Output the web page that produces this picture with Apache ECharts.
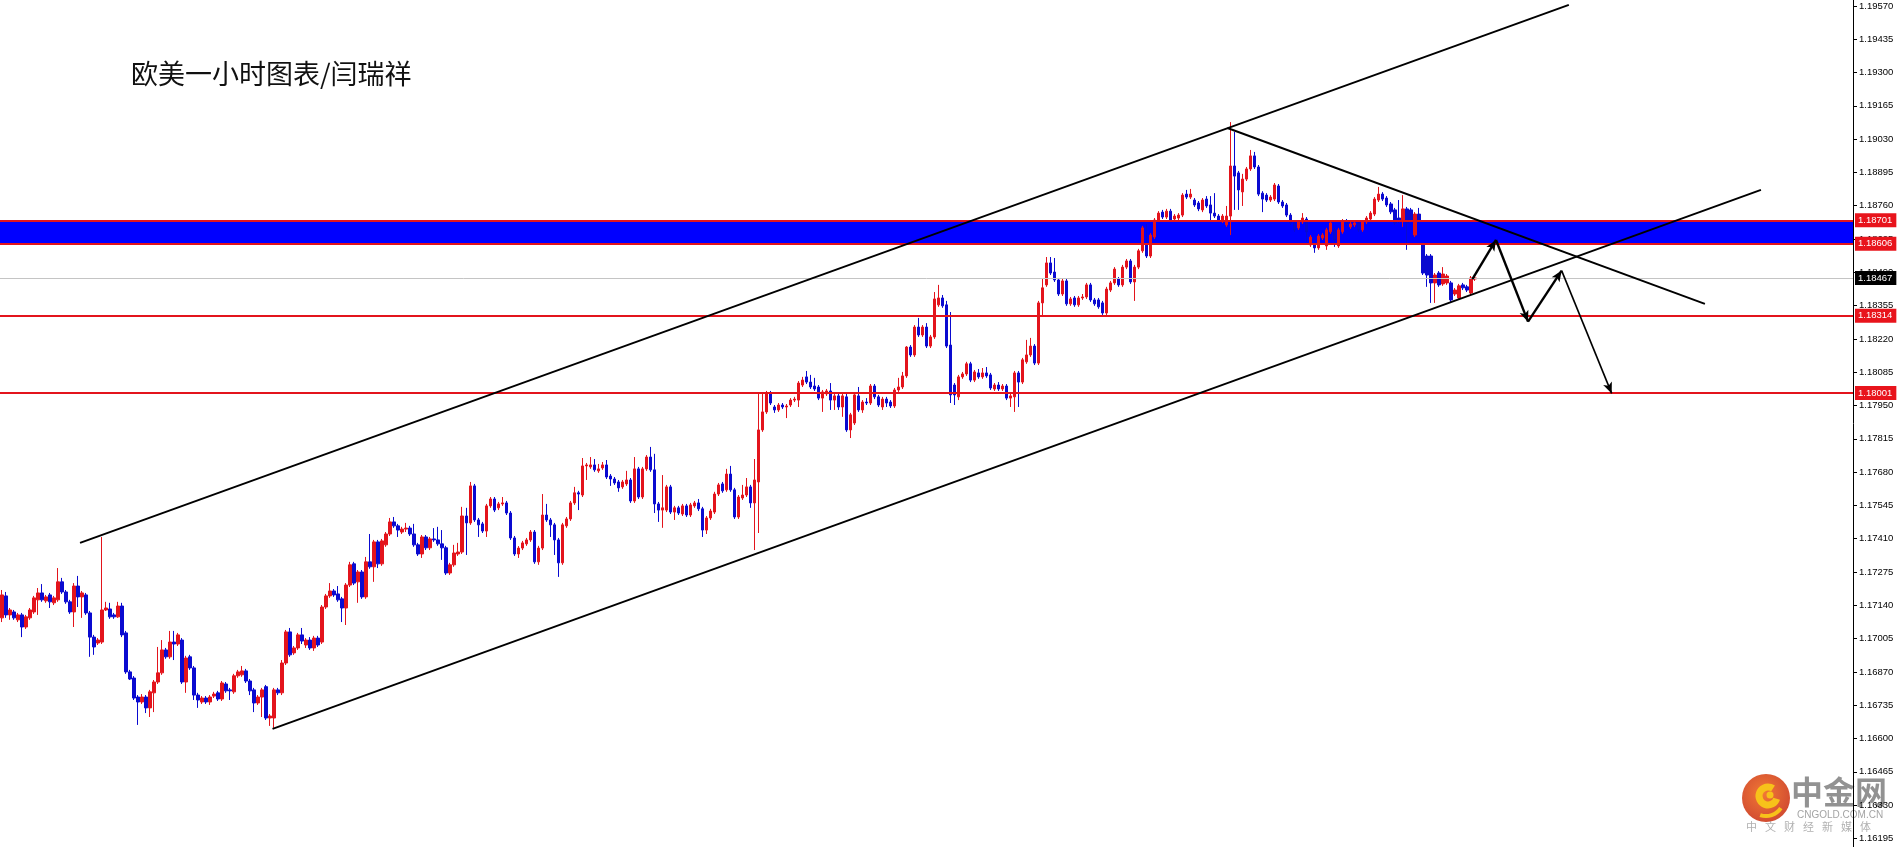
<!DOCTYPE html>
<html><head><meta charset="utf-8">
<script src="https://cdn.jsdelivr.net/npm/echarts@6/dist/echarts.min.js"></script>
<style>html,body{margin:0;padding:0;background:#fff}#c{width:1899px;height:847px}</style>
</head><body><div id="c"></div>
<script>
// EURUSD H1 candles: [open, close, low, high]
const ohlc = [
[1.17089,1.17182,1.17072,1.17202],[1.17178,1.17101,1.17089,1.17194],[1.17101,1.17121,1.17081,1.17129],[1.17113,1.17089,1.17081,1.17121],
[1.17081,1.17101,1.17072,1.17109],[1.17101,1.17052,1.17011,1.17109],[1.17052,1.17093,1.17044,1.17101],[1.17089,1.17121,1.17081,1.17129],
[1.17113,1.17170,1.17105,1.17178],[1.17162,1.17190,1.17101,1.17210],[1.17190,1.17162,1.17154,1.17226],[1.17158,1.17174,1.17150,1.17182],
[1.17182,1.17154,1.17129,1.17190],[1.17150,1.17170,1.17141,1.17178],[1.17162,1.17235,1.17154,1.17291],[1.17235,1.17194,1.17186,1.17251],
[1.17194,1.17154,1.17146,1.17202],[1.17154,1.17113,1.17105,1.17162],[1.17113,1.17218,1.17052,1.17230],[1.17218,1.17174,1.17133,1.17259],
[1.17174,1.17190,1.17089,1.17198],[1.17182,1.17109,1.17101,1.17190],[1.17109,1.17011,1.16931,1.17117],[1.17011,1.16971,1.16939,1.17020],
[1.16987,1.16999,1.16979,1.17007],[1.16991,1.17121,1.16983,1.17417],[1.17121,1.17129,1.17117,1.17154],[1.17125,1.17093,1.17085,1.17150],
[1.17101,1.17093,1.17085,1.17109],[1.17093,1.17137,1.17089,1.17154],[1.17137,1.17020,1.17011,1.17150],[1.17028,1.16870,1.16862,1.17036],
[1.16870,1.16841,1.16837,1.16878],[1.16845,1.16764,1.16756,1.16853],[1.16768,1.16748,1.16655,1.16776],[1.16748,1.16768,1.16740,1.16780],
[1.16768,1.16724,1.16703,1.16776],[1.16724,1.16789,1.16687,1.16797],[1.16785,1.16829,1.16707,1.16837],[1.16829,1.16866,1.16821,1.16971],
[1.16866,1.16959,1.16858,1.16999],[1.16959,1.16931,1.16923,1.16967],[1.16931,1.16991,1.16923,1.17036],[1.16991,1.16983,1.16918,1.17036],
[1.16983,1.17020,1.16975,1.17028],[1.16999,1.16829,1.16821,1.17007],[1.16829,1.16926,1.16785,1.16935],[1.16931,1.16886,1.16878,1.16939],
[1.16886,1.16776,1.16756,1.16894],[1.16776,1.16756,1.16724,1.16785],[1.16748,1.16764,1.16740,1.16772],[1.16764,1.16748,1.16740,1.16772],
[1.16748,1.16768,1.16736,1.16776],[1.16772,1.16780,1.16764,1.16789],[1.16785,1.16760,1.16752,1.16793],[1.16760,1.16825,1.16752,1.16833],
[1.16821,1.16793,1.16785,1.16829],[1.16797,1.16793,1.16756,1.16805],[1.16789,1.16854,1.16781,1.16862],[1.16854,1.16870,1.16846,1.16878],
[1.16858,1.16874,1.16850,1.16894],[1.16874,1.16833,1.16825,1.16882],[1.16833,1.16793,1.16776,1.16841],[1.16797,1.16744,1.16707,1.16805],
[1.16744,1.16768,1.16736,1.16776],[1.16768,1.16797,1.16687,1.16805],[1.16810,1.16683,1.16675,1.16817],[1.16683,1.16691,1.16651,1.16699],
[1.16683,1.16797,1.16643,1.16805],[1.16797,1.16785,1.16776,1.16805],[1.16785,1.16906,1.16776,1.16918],[1.16906,1.17032,1.16898,1.17040],
[1.17032,1.16939,1.16931,1.17048],[1.16947,1.16967,1.16939,1.16975],[1.16967,1.17020,1.16959,1.17028],[1.17020,1.16995,1.16983,1.17048],
[1.16979,1.16999,1.16967,1.17007],[1.16999,1.16967,1.16959,1.17011],[1.16967,1.17007,1.16955,1.17016],[1.17007,1.16979,1.16971,1.17016],
[1.16991,1.17133,1.16983,1.17141],[1.17133,1.17178,1.17125,1.17186],[1.17178,1.17198,1.17170,1.17230],[1.17198,1.17182,1.17174,1.17206],
[1.17186,1.17162,1.17154,1.17218],[1.17166,1.17129,1.17072,1.17174],[1.17129,1.17222,1.17060,1.17230],[1.17222,1.17304,1.17214,1.17316],
[1.17308,1.17230,1.17222,1.17316],[1.17235,1.17275,1.17150,1.17283],[1.17275,1.17174,1.17166,1.17283],[1.17174,1.17316,1.17166,1.17336],
[1.17316,1.17296,1.17288,1.17429],[1.17296,1.17397,1.17235,1.17405],[1.17397,1.17308,1.17291,1.17405],[1.17308,1.17401,1.17300,1.17409],
[1.17385,1.17429,1.17377,1.17437],[1.17429,1.17478,1.17421,1.17494],[1.17478,1.17462,1.17454,1.17498],[1.17462,1.17445,1.17417,1.17470],
[1.17437,1.17449,1.17429,1.17458],[1.17449,1.17453,1.17437,1.17474],[1.17453,1.17429,1.17421,1.17462],[1.17429,1.17385,1.17377,1.17470],
[1.17385,1.17348,1.17340,1.17393],[1.17348,1.17417,1.17332,1.17425],[1.17417,1.17373,1.17364,1.17425],[1.17373,1.17409,1.17364,1.17417],
[1.17409,1.17405,1.17397,1.17453],[1.17405,1.17389,1.17381,1.17458],[1.17389,1.17373,1.17324,1.17445],[1.17373,1.17271,1.17263,1.17381],
[1.17271,1.17304,1.17263,1.17312],[1.17304,1.17352,1.17296,1.17385],[1.17348,1.17356,1.17340,1.17393],[1.17356,1.17502,1.17348,1.17539],
[1.17502,1.17474,1.17344,1.17535],[1.17474,1.17624,1.17466,1.17640],[1.17624,1.17486,1.17478,1.17632],[1.17486,1.17466,1.17417,1.17494],
[1.17470,1.17441,1.17433,1.17478],[1.17441,1.17543,1.17417,1.17551],[1.17543,1.17571,1.17535,1.17579],[1.17571,1.17526,1.17518,1.17579],
[1.17535,1.17551,1.17526,1.17559],[1.17551,1.17555,1.17543,1.17579],[1.17555,1.17514,1.17506,1.17563],[1.17514,1.17413,1.17405,1.17522],
[1.17413,1.17348,1.17340,1.17421],[1.17348,1.17372,1.17332,1.17380],[1.17372,1.17393,1.17364,1.17401],[1.17389,1.17405,1.17381,1.17413],
[1.17405,1.17437,1.17397,1.17445],[1.17437,1.17316,1.17308,1.17445],[1.17316,1.17372,1.17304,1.17381],[1.17372,1.17506,1.17364,1.17591],
[1.17506,1.17486,1.17478,1.17551],[1.17486,1.17466,1.17417,1.17494],[1.17466,1.17405,1.17344,1.17474],[1.17405,1.17312,1.17255,1.17413],
[1.17312,1.17466,1.17304,1.17474],[1.17462,1.17490,1.17454,1.17498],[1.17490,1.17555,1.17482,1.17563],[1.17555,1.17596,1.17547,1.17620],
[1.17596,1.17591,1.17526,1.17604],[1.17587,1.17705,1.17579,1.17737],[1.17705,1.17709,1.17648,1.17717],[1.17701,1.17709,1.17693,1.17741],
[1.17709,1.17689,1.17681,1.17733],[1.17685,1.17693,1.17677,1.17713],[1.17697,1.17709,1.17689,1.17721],[1.17709,1.17660,1.17652,1.17729],
[1.17664,1.17652,1.17624,1.17672],[1.17652,1.17636,1.17628,1.17660],[1.17640,1.17616,1.17600,1.17648],[1.17620,1.17640,1.17612,1.17648],
[1.17632,1.17648,1.17624,1.17685],[1.17648,1.17563,1.17555,1.17656],[1.17563,1.17693,1.17555,1.17741],[1.17693,1.17579,1.17571,1.17701],
[1.17579,1.17693,1.17571,1.17701],[1.17693,1.17741,1.17685,1.17749],[1.17741,1.17689,1.17681,1.17782],[1.17689,1.17551,1.17514,1.17754],
[1.17551,1.17526,1.17478,1.17559],[1.17526,1.17535,1.17454,1.17668],[1.17526,1.17620,1.17518,1.17628],[1.17620,1.17518,1.17510,1.17628],
[1.17518,1.17535,1.17486,1.17543],[1.17535,1.17514,1.17506,1.17543],[1.17510,1.17543,1.17502,1.17551],[1.17543,1.17506,1.17498,1.17551],
[1.17506,1.17547,1.17498,1.17555],[1.17543,1.17555,1.17535,1.17563],[1.17555,1.17531,1.17522,1.17571],[1.17531,1.17445,1.17417,1.17539],
[1.17445,1.17494,1.17429,1.17502],[1.17494,1.17522,1.17486,1.17531],[1.17518,1.17591,1.17510,1.17600],[1.17591,1.17628,1.17583,1.17636],
[1.17632,1.17604,1.17596,1.17640],[1.17608,1.17672,1.17600,1.17693],[1.17672,1.17608,1.17600,1.17705],[1.17608,1.17498,1.17490,1.17616],
[1.17498,1.17579,1.17490,1.17587],[1.17575,1.17587,1.17567,1.17628],[1.17587,1.17620,1.17579,1.17656],[1.17620,1.17555,1.17535,1.17628],
[1.17555,1.17648,1.17364,1.17733],[1.17640,1.17851,1.17433,1.18001],[1.17851,1.17924,1.17843,1.18001],[1.17924,1.18001,1.17916,1.18009],
[1.18001,1.17960,1.17952,1.18009],[1.17944,1.17932,1.17920,1.17952],[1.17932,1.17952,1.17924,1.17960],[1.17952,1.17944,1.17936,1.17960],
[1.17944,1.17948,1.17899,1.17956],[1.17952,1.17972,1.17944,1.17980],[1.17972,1.17976,1.17964,1.17985],[1.17972,1.18041,1.17944,1.18049],
[1.18033,1.18053,1.18025,1.18066],[1.18066,1.18045,1.18037,1.18090],[1.18045,1.18025,1.18017,1.18074],[1.18029,1.18017,1.18009,1.18062],
[1.18025,1.17980,1.17972,1.18033],[1.17980,1.18005,1.17924,1.18013],[1.17997,1.18009,1.17989,1.18017],[1.18009,1.17972,1.17932,1.18041],
[1.17972,1.17989,1.17932,1.17997],[1.17989,1.17944,1.17932,1.17997],[1.17944,1.17989,1.17904,1.17997],[1.17985,1.17851,1.17843,1.18001],
[1.17851,1.17912,1.17818,1.17920],[1.17879,1.17993,1.17871,1.18001],[1.17989,1.17932,1.17924,1.18025],[1.17932,1.17964,1.17920,1.17972],
[1.17964,1.17960,1.17952,1.17980],[1.17960,1.18029,1.17952,1.18037],[1.18029,1.17985,1.17976,1.18037],[1.17985,1.17952,1.17944,1.17993],
[1.17944,1.17976,1.17932,1.17985],[1.17976,1.17960,1.17944,1.17985],[1.17964,1.17948,1.17940,1.17972],[1.17948,1.18013,1.17940,1.18021],
[1.18013,1.18025,1.18005,1.18062],[1.18025,1.18070,1.18017,1.18086],[1.18070,1.18187,1.18062,1.18191],[1.18187,1.18155,1.18147,1.18195],
[1.18155,1.18268,1.18147,1.18276],[1.18268,1.18236,1.18228,1.18305],[1.18236,1.18268,1.18228,1.18276],[1.18268,1.18191,1.18183,1.18284],
[1.18191,1.18228,1.18183,1.18236],[1.18228,1.18382,1.18220,1.18410],[1.18358,1.18386,1.18350,1.18439],[1.18386,1.18354,1.18346,1.18398],
[1.18358,1.18191,1.18183,1.18374],[1.18195,1.17993,1.17960,1.18329],[1.18033,1.17993,1.17952,1.18041],[1.17985,1.18066,1.17972,1.18074],
[1.18066,1.18078,1.18058,1.18086],[1.18078,1.18119,1.18070,1.18127],[1.18119,1.18053,1.18045,1.18127],[1.18053,1.18086,1.18045,1.18094],
[1.18082,1.18066,1.18058,1.18098],[1.18066,1.18082,1.18058,1.18102],[1.18082,1.18070,1.18062,1.18106],[1.18074,1.18021,1.18013,1.18082],
[1.18017,1.18033,1.18009,1.18041],[1.18033,1.18017,1.18009,1.18045],[1.18017,1.18029,1.18009,1.18037],[1.18029,1.17980,1.17972,1.18037],
[1.17980,1.17989,1.17944,1.17997],[1.17985,1.18082,1.17924,1.18090],[1.18082,1.18045,1.17944,1.18090],[1.18045,1.18135,1.18037,1.18143],
[1.18127,1.18155,1.18119,1.18216],[1.18155,1.18191,1.18147,1.18224],[1.18191,1.18122,1.18114,1.18199],[1.18122,1.18366,1.18114,1.18374],
[1.18366,1.18427,1.18317,1.18467],[1.18439,1.18528,1.18431,1.18552],[1.18528,1.18487,1.18479,1.18552],[1.18491,1.18459,1.18451,1.18548],
[1.18459,1.18402,1.18394,1.18467],[1.18402,1.18455,1.18394,1.18463],[1.18455,1.18362,1.18354,1.18463],[1.18362,1.18382,1.18354,1.18390],
[1.18386,1.18358,1.18350,1.18394],[1.18358,1.18386,1.18350,1.18394],[1.18386,1.18390,1.18378,1.18402],[1.18390,1.18439,1.18382,1.18447],
[1.18439,1.18378,1.18370,1.18447],[1.18378,1.18362,1.18354,1.18386],[1.18378,1.18350,1.18342,1.18386],[1.18366,1.18325,1.18317,1.18374],
[1.18325,1.18422,1.18317,1.18431],[1.18418,1.18447,1.18410,1.18455],[1.18447,1.18503,1.18439,1.18511],[1.18463,1.18439,1.18431,1.18471],
[1.18439,1.18511,1.18431,1.18520],[1.18511,1.18536,1.18503,1.18544],[1.18536,1.18451,1.18443,1.18544],[1.18451,1.18511,1.18374,1.18520],
[1.18511,1.18577,1.18503,1.18585],[1.18577,1.18670,1.18569,1.18678],[1.18605,1.18556,1.18548,1.18686],[1.18556,1.18641,1.18548,1.18649],
[1.18633,1.18702,1.18625,1.18710],[1.18702,1.18730,1.18694,1.18738],[1.18734,1.18714,1.18706,1.18743],[1.18714,1.18738,1.18706,1.18747],
[1.18738,1.18702,1.18694,1.18747],[1.18706,1.18718,1.18698,1.18726],[1.18710,1.18722,1.18702,1.18730],[1.18722,1.18803,1.18714,1.18811],
[1.18807,1.18795,1.18787,1.18824],[1.18795,1.18807,1.18787,1.18828],[1.18783,1.18763,1.18755,1.18791],[1.18771,1.18747,1.18738,1.18779],
[1.18743,1.18783,1.18734,1.18791],[1.18787,1.18759,1.18751,1.18799],[1.18763,1.18730,1.18702,1.18799],[1.18730,1.18718,1.18710,1.18811],
[1.18718,1.18702,1.18694,1.18726],[1.18698,1.18718,1.18690,1.18726],[1.18682,1.18718,1.18674,1.18759],[1.18718,1.18921,1.18641,1.19099],
[1.18921,1.18880,1.18743,1.19059],[1.18893,1.18824,1.18743,1.18901],[1.18816,1.18868,1.18759,1.18889],[1.18868,1.18909,1.18860,1.18917],
[1.18909,1.18962,1.18901,1.18986],[1.18962,1.18917,1.18909,1.18978],[1.18917,1.18807,1.18799,1.18925],[1.18811,1.18787,1.18734,1.18819],
[1.18803,1.18783,1.18775,1.18811],[1.18783,1.18795,1.18775,1.18803],[1.18787,1.18844,1.18779,1.18852],[1.18840,1.18775,1.18767,1.18848],
[1.18775,1.18759,1.18751,1.18783],[1.18763,1.18722,1.18714,1.18771],[1.18722,1.18690,1.18682,1.18730],[1.18690,1.18662,1.18654,1.18698],
[1.18670,1.18694,1.18662,1.18702],[1.18694,1.18710,1.18686,1.18730],[1.18706,1.18654,1.18613,1.18714],[1.18601,1.18633,1.18593,1.18641],
[1.18601,1.18589,1.18569,1.18609],[1.18589,1.18637,1.18581,1.18645],[1.18629,1.18641,1.18621,1.18649],[1.18597,1.18662,1.18581,1.18670],
[1.18654,1.18690,1.18646,1.18698],[1.18662,1.18621,1.18593,1.18670],[1.18597,1.18662,1.18589,1.18670],[1.18654,1.18698,1.18646,1.18706],
[1.18698,1.18686,1.18678,1.18706],[1.18674,1.18686,1.18666,1.18694],[1.18682,1.18690,1.18674,1.18698],[1.18690,1.18662,1.18654,1.18698],
[1.18662,1.18694,1.18654,1.18702],[1.18694,1.18710,1.18686,1.18718],[1.18706,1.18730,1.18698,1.18738],[1.18726,1.18787,1.18718,1.18795],
[1.18783,1.18807,1.18775,1.18836],[1.18807,1.18787,1.18779,1.18815],[1.18791,1.18763,1.18755,1.18799],[1.18767,1.18735,1.18726,1.18775],
[1.18743,1.18690,1.18682,1.18751],[1.18710,1.18698,1.18690,1.18783],[1.18702,1.18747,1.18674,1.18803],[1.18747,1.18690,1.18581,1.18755],
[1.18743,1.18702,1.18694,1.18751],[1.18641,1.18726,1.18633,1.18734],[1.18726,1.18698,1.18690,1.18751],[1.18601,1.18487,1.18479,1.18609],
[1.18556,1.18479,1.18431,1.18564],[1.18556,1.18447,1.18366,1.18564],[1.18447,1.18479,1.18366,1.18487],[1.18487,1.18439,1.18431,1.18495],
[1.18443,1.18483,1.18435,1.18511],[1.18447,1.18475,1.18439,1.18483],[1.18447,1.18378,1.18370,1.18455],[1.18402,1.18418,1.18394,1.18426],
[1.18386,1.18435,1.18378,1.18443],[1.18439,1.18427,1.18418,1.18447],[1.18431,1.18418,1.18410,1.18439],[1.18406,1.18467,1.18398,1.18475],
[1.18463,1.18467,1.18455,1.18471]
];
const slotCount = 463;                 // chart slots incl. right shift
const tickValues = [1.19570,1.19435,1.19300,1.19165,1.19030,1.18895,1.18760,1.18625,1.18490,1.18355,1.18220,1.18085,1.17950,1.17815,1.17680,1.17545,1.17410,1.17275,1.17140,1.17005,1.16870,1.16735,1.16600,1.16465,1.16330,1.16195];
const yMin = 1.16160, yMax = 1.19594;
const bandRange = [1.18606, 1.18701];
const redLevels = [1.18701, 1.18606, 1.18314, 1.18001];
const lastPrice = 1.18467;
// trendlines [barIndex, price]
const upperChannel = [[19.5, 1.17393], [391.5, 1.19574]];
const lowerChannel = [[67.6, 1.16639], [439.5, 1.18824]];
const downTrend = [[306.2, 1.19075], [425.5, 1.18362]];
const arrowPath = [[367.4, 1.18462], [373.3, 1.18621], [381.3, 1.18290], [389.7, 1.18497], [402.2, 1.17999]];
const titleText = '欧美一小时图表/闫瑞祥';

const RED = '#e3141c', BLUE = '#0a0ad0';
const slots = Array.from({length: slotCount}, (_, i) => String(i));
const chart = echarts.init(document.getElementById('c'), null, {renderer: 'canvas'});
const fmt = v => Number(v).toFixed(5);

const arrowSegs = [];
for (let k = 0; k < arrowPath.length - 1; k++) {
  arrowSegs.push([{coord: arrowPath[k], lineStyle: {width: k === 3 ? 1.6 : 2.4}}, {coord: arrowPath[k + 1]}]);
}
const lvlLabel = (bg) => ({show: true, position: 'end', distance: 2, formatter: p => fmt(p.value),
  color: '#fff', backgroundColor: bg, fontSize: 9.5, fontFamily: 'Liberation Sans', padding: [2, 4, 2, 3]});

const trendSeries = (data, extra) => Object.assign({
  type: 'line', xAxisIndex: 1, yAxisIndex: 0, data: data, symbol: 'none', z: 6, silent: true,
  lineStyle: {color: '#000', width: 2}, animation: false
}, extra || {});

chart.setOption({
  animation: false,
  backgroundColor: '#fff',
  grid: {left: 0, right: 46, top: 0, bottom: 0, containLabel: false},
  xAxis: [
    {type: 'category', data: slots, boundaryGap: true, show: false},
    {type: 'value', min: -0.5, max: slotCount - 0.5, show: false}
  ],
  yAxis: [{
    type: 'value', position: 'right', min: yMin, max: yMax, scale: true,
    axisLine: {show: true, onZero: false, lineStyle: {color: '#000', width: 1}},
    axisTick: {show: true, customValues: tickValues, length: 4, lineStyle: {color: '#000'}},
    axisLabel: {show: true, customValues: tickValues, formatter: v => fmt(v), color: '#000',
      fontSize: 9.5, fontFamily: 'Liberation Sans', margin: 6, hideOverlap: false},
    splitLine: {show: false}
  }],
  series: [
    {
      type: 'candlestick', xAxisIndex: 0, yAxisIndex: 0, data: ohlc, barWidth: 3, silent: true,
      itemStyle: {color: RED, color0: BLUE, borderColor: RED, borderColor0: BLUE, borderWidth: 1, borderColorDoji: RED},
      markArea: {silent: true, itemStyle: {color: '#0000ff', opacity: 1}, data: [[{yAxis: bandRange[0]}, {yAxis: bandRange[1]}]]},
      markLine: {
        silent: true, symbol: 'none', animation: false, precision: 5,
        data: [
          ...redLevels.map(v => ({yAxis: v, lineStyle: {color: RED, width: 2, type: 'solid'}, label: lvlLabel('#e8141c')})),
          {yAxis: lastPrice, lineStyle: {color: '#c4c4c4', width: 1, type: 'solid'}, label: lvlLabel('#000')}
        ]
      }
    },
    trendSeries(upperChannel),
    trendSeries(lowerChannel),
    trendSeries(downTrend, {
      markLine: {silent: true, symbol: ['none', 'arrow'], symbolSize: [7, 11], animation: false, precision: 5,
        lineStyle: {color: '#000', width: 2.4, type: 'solid'}, label: {show: false}, data: arrowSegs}
    })
  ],
  graphic: [
    {type: 'text', left: 131, top: 60, z: 10,
     style: {text: titleText, font: '27px "Noto Sans CJK SC"', fill: '#111'}},
    {type: 'group', z: 20, children: [
      {type: 'circle', shape: {cx: 1766, cy: 798, r: 24},
       style: {fill: new echarts.graphic.RadialGradient(0.45, 0.4, 0.7, [{offset: 0, color: '#f06a1e'}, {offset: 1, color: '#c7301a'}]), opacity: 0.9}},
      {type: 'arc', shape: {cx: 1768, cy: 796, r: 9, startAngle: 0.3, endAngle: 5.3},
       style: {stroke: '#f7c21a', lineWidth: 7, fill: null}},
      {type: 'circle', shape: {cx: 1770, cy: 795, r: 3.5}, style: {fill: '#f7c21a'}},
      {type: 'arc', shape: {cx: 1766, cy: 798, r: 18, startAngle: 0.6, endAngle: 1.9},
       style: {stroke: '#f7c21a', lineWidth: 4, fill: null}},
      {type: 'text', x: 1791, y: 792, style: {text: '中金网', font: 'bold 32px "Noto Sans CJK SC"', fill: 'rgba(115,115,115,0.78)', textVerticalAlign: 'middle'}},
      {type: 'text', x: 1797, y: 815, style: {text: 'CNGOLD.COM.CN', font: '10px "Liberation Sans"', fill: 'rgba(140,140,140,0.8)', textVerticalAlign: 'middle'}},
      ...'中文财经新媒体'.split('').map((ch, k) => ({type: 'text', x: 1746 + k * 19, y: 827,
        style: {text: ch, font: '11px "Noto Sans CJK SC"', fill: 'rgba(150,150,150,0.75)', textVerticalAlign: 'middle'}}))
    ]}
  ]
});
</script></body></html>
